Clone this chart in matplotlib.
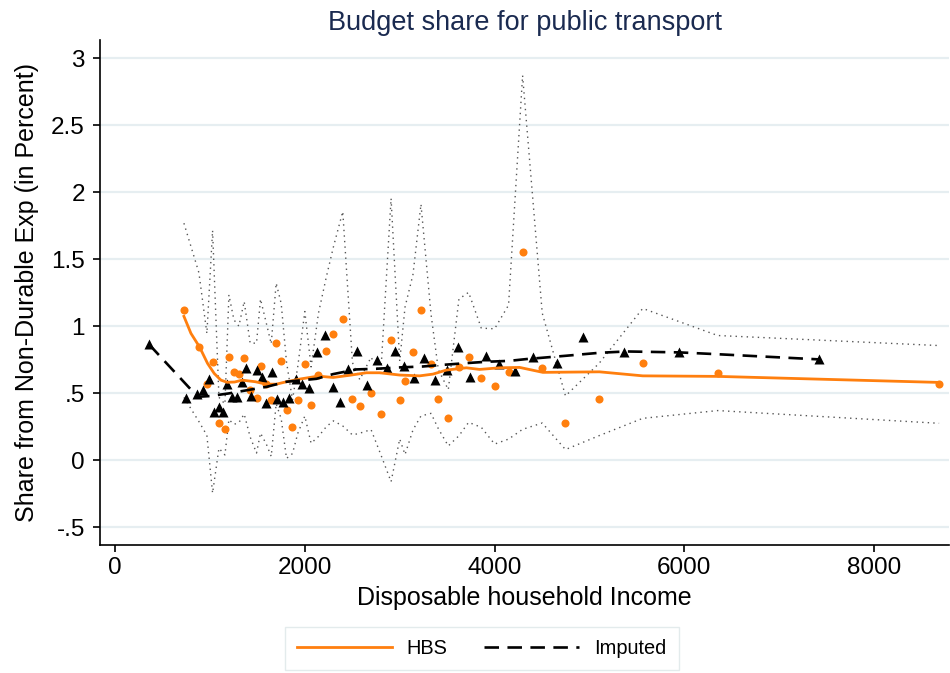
# budget share plot

import matplotlib
matplotlib.use('Agg')
import matplotlib.pyplot as plt

# HBS group means (income, share)
hbs_x = [726, 884, 968, 1028, 1095, 1158, 1200, 1253, 1305, 1361, 1424, 1491, 1533, 1596, 1646,
         1698, 1751, 1807, 1870, 1926, 2000, 2066, 2144, 2228, 2302, 2400, 2502, 2579, 2698, 2800,
         2909, 3000, 3056, 3140, 3224, 3330, 3407, 3512, 3624, 3726, 3860, 4000, 4147, 4295, 4502,
         4747, 5102, 5561, 6351, 8684]
hbs_y = [1.12, 0.845, 0.567, 0.736, 0.281, 0.231, 0.77, 0.659, 0.642, 0.766, 0.525, 0.465, 0.704, 0.569, 0.45,
         0.873, 0.741, 0.375, 0.251, 0.452, 0.721, 0.413, 0.639, 0.813, 0.945, 1.057, 0.46, 0.403, 0.5, 0.345,
         0.898, 0.45, 0.594, 0.808, 1.122, 0.721, 0.457, 0.318, 0.694, 0.769, 0.617, 0.552, 0.659, 1.552, 0.689,
         0.281, 0.455, 0.724, 0.652, 0.567]
hbs_upper = [1.77, 1.40, 0.947, 1.716, 0.471, 0.421, 1.235, 1.049, 1.002, 1.186, 0.875, 0.875, 1.204, 1.019, 0.87,
             1.323, 1.171, 0.735, 0.451, 0.702, 1.111, 0.698, 1.099, 1.373, 1.595, 1.857, 0.73, 0.603, 0.77, 0.645,
             1.955, 0.74, 1.144, 1.388, 1.912, 1.091, 0.677, 0.528, 1.204, 1.254, 0.987, 0.982, 1.159, 2.872, 1.099,
             0.481, 0.725, 1.134, 0.932, 0.857]
hbs_lower = [0.47, 0.29, 0.187, -0.244, 0.091, 0.041, 0.305, 0.269, 0.282, 0.346, 0.175, 0.055, 0.204, 0.119, 0.03,
             0.423, 0.311, 0.015, 0.051, 0.202, 0.331, 0.128, 0.179, 0.253, 0.295, 0.257, 0.19, 0.203, 0.23, 0.045,
             -0.159, 0.16, 0.044, 0.228, 0.332, 0.351, 0.237, 0.108, 0.184, 0.284, 0.247, 0.122, 0.159, 0.232, 0.279,
             0.081, 0.185, 0.314, 0.372, 0.277]

# HBS smoothed line
hbs_fit_x = [726, 800, 891, 975, 1045, 1116, 1182, 1260, 1340, 1480, 1590, 1700, 1807, 1947, 2140, 2298,
             2470, 2649, 2789, 3000, 3210, 3350, 3491, 3702, 3842, 4053, 4263, 4509, 5105, 5561, 6351, 8684]
hbs_fit_y = [1.075, 0.948, 0.846, 0.724, 0.649, 0.599, 0.583, 0.585, 0.599, 0.587, 0.569, 0.569, 0.587, 0.607,
             0.629, 0.619, 0.635, 0.654, 0.654, 0.637, 0.631, 0.644, 0.674, 0.691, 0.679, 0.691, 0.694, 0.657,
             0.661, 0.631, 0.627, 0.582]

# imputed group means
imp_x = [358, 744, 866, 930, 989, 1039, 1098, 1140, 1179, 1232, 1287, 1337, 1382, 1435, 1491, 1544, 1596,
         1653, 1709, 1768, 1835, 1902, 1968, 2049, 2126, 2210, 2298, 2368, 2460, 2554, 2656, 2758, 2863,
         2951, 3045, 3151, 3260, 3372, 3498, 3611, 3737, 3905, 4049, 4214, 4400, 4653, 4933, 5368, 5947, 7414]
imp_y = [0.866, 0.467, 0.495, 0.525, 0.604, 0.363, 0.396, 0.363, 0.567, 0.47, 0.472, 0.587, 0.687, 0.482,
         0.672, 0.619, 0.43, 0.657, 0.457, 0.437, 0.463, 0.604, 0.572, 0.537, 0.81, 0.933, 0.545, 0.437, 0.679,
         0.813, 0.562, 0.751, 0.689, 0.818, 0.704, 0.612, 0.766, 0.597, 0.676, 0.846, 0.619, 0.781, 0.716,
         0.664, 0.773, 0.726, 0.922, 0.808, 0.81, 0.758]

# imputed smoothed line
imp_fit_x = [358, 870, 1000, 1200, 1400, 1596, 1807, 2123, 2298, 2544, 2754, 3000, 3245, 3456, 3702, 3912,
             4158, 4333, 4754, 5105, 5386, 5632, 5947, 6333, 7414]
imp_fit_y = [0.866, 0.475, 0.48, 0.50, 0.525, 0.549, 0.587, 0.609, 0.644, 0.679, 0.684, 0.694, 0.701, 0.713,
             0.726, 0.736, 0.743, 0.756, 0.781, 0.803, 0.813, 0.81, 0.806, 0.793, 0.754]

y_ticks = [-0.5, 0, 0.5, 1, 1.5, 2, 2.5, 3]
y_tick_labels = ['-.5', '0', '.5', '1', '1.5', '2', '2.5', '3']
x_ticks = [0, 2000, 4000, 6000, 8000]

orange = '#ff7f0e'
plt.rcParams['font.family'] = ['Liberation Sans', 'DejaVu Sans']

fig = plt.figure(figsize=(9.5, 6.73), dpi=100)
ax = fig.add_axes([0.1053, 0.19, 0.8937, 0.7506])

ax.plot(hbs_x, hbs_upper, color='#555555', lw=1.0, ls=(0, (1, 3)), zorder=2)
ax.plot(hbs_x, hbs_lower, color='#555555', lw=1.0, ls=(0, (1, 3)), zorder=2)
ax.plot(hbs_x, hbs_y, 'o', color=orange, ms=5.8, mec='none', zorder=3)
ax.plot(imp_x, imp_y, '^', color='black', ms=7, mec='none', zorder=3)
ax.plot(hbs_fit_x, hbs_fit_y, color=orange, lw=2, zorder=4, label='HBS')
ax.plot(imp_fit_x, imp_fit_y, color='black', lw=1.9, dashes=(5.5, 3.2), zorder=4, label='Imputed')

ax.set_xlim(-158, 8789)
ax.set_ylim(-0.632, 3.137)
ax.set_yticks(y_ticks)
ax.set_yticklabels(y_tick_labels)
ax.set_xticks(x_ticks)
ax.tick_params(axis='both', labelsize=17.5, direction='out', length=5, width=1.2, colors='black')
ax.tick_params(axis='y', pad=6)
ax.grid(axis='y', color='#e6eef1', lw=1.6)
ax.set_axisbelow(True)
for s in ['top', 'right']:
    ax.spines[s].set_visible(False)
ax.spines['left'].set_linewidth(1.2)
ax.spines['bottom'].set_linewidth(1.2)

ax.set_title('Budget share for public transport', fontsize=19.5, color='#1a2a50', pad=7)
ax.set_xlabel('Disposable household Income', fontsize=18, labelpad=5)
ax.set_ylabel('Share from Non-Durable Exp (in Percent)', fontsize=18, labelpad=9)

fig.legend(loc='center', bbox_to_anchor=(0.507, 0.0357), ncol=2, fontsize=14.4, frameon=True,
           fancybox=False, edgecolor='#dce6e8', handlelength=4.75, handletextpad=0.75,
           columnspacing=1.85, borderpad=0.6)

fig.savefig('out.png', dpi=100)
